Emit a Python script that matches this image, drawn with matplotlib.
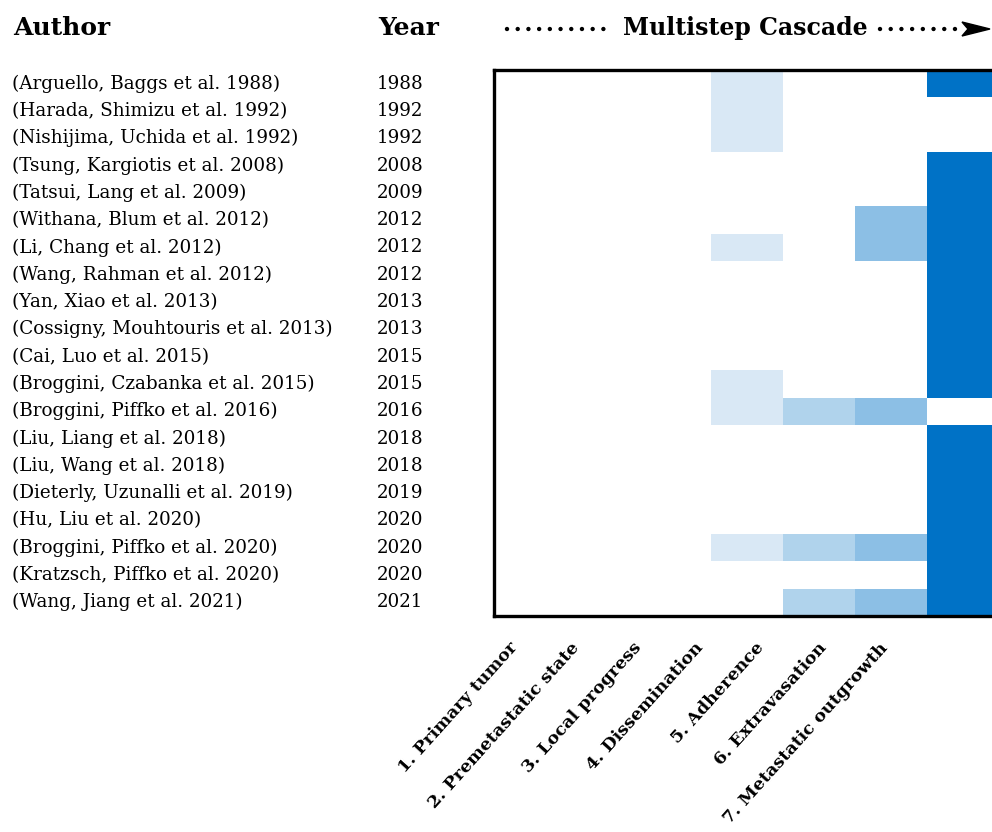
import matplotlib
matplotlib.use("Agg")
import matplotlib.pyplot as plt
import numpy as np
from matplotlib.colors import ListedColormap, BoundaryNorm
from matplotlib.transforms import blended_transform_factory
from matplotlib.lines import Line2D

plt.rcParams['font.family'] = ['DejaVu Serif']
plt.rcParams['lines.scale_dashes'] = False

authors = [
    "(Arguello, Baggs et al. 1988)",
    "(Harada, Shimizu et al. 1992)",
    "(Nishijima, Uchida et al. 1992)",
    "(Tsung, Kargiotis et al. 2008)",
    "(Tatsui, Lang et al. 2009)",
    "(Withana, Blum et al. 2012)",
    "(Li, Chang et al. 2012)",
    "(Wang, Rahman et al. 2012)",
    "(Yan, Xiao et al. 2013)",
    "(Cossigny, Mouhtouris et al. 2013)",
    "(Cai, Luo et al. 2015)",
    "(Broggini, Czabanka et al. 2015)",
    "(Broggini, Piffko et al. 2016)",
    "(Liu, Liang et al. 2018)",
    "(Liu, Wang et al. 2018)",
    "(Dieterly, Uzunalli et al. 2019)",
    "(Hu, Liu et al. 2020)",
    "(Broggini, Piffko et al. 2020)",
    "(Kratzsch, Piffko et al. 2020)",
    "(Wang, Jiang et al. 2021)",
]
years = ["1988", "1992", "1992", "2008", "2009", "2012", "2012", "2012", "2013", "2013",
         "2015", "2015", "2016", "2018", "2018", "2019", "2020", "2020", "2020", "2021"]

stages = ["1. Primary tumor", "2. Premetastatic state", "3. Local progress",
          "4. Dissemination", "5. Adherence", "6. Extravasation",
          "7. Metastatic outgrowth"]

# presence (1) of each cascade step per study
primary_tumor      = [0]*20
premetastatic      = [0]*20
local_progress     = [0]*20
dissemination      = [1,1,1,0,0,0,1,0,0,0,0,1,1,0,0,0,0,1,0,0]
adherence          = [0,0,0,0,0,0,0,0,0,0,0,0,1,0,0,0,0,1,0,1]
extravasation      = [0,0,0,0,0,1,1,0,0,0,0,0,1,0,0,0,0,1,0,1]
metastatic_outgr   = [1,0,0,1,1,1,1,1,1,1,1,1,0,1,1,1,1,1,1,1]
# colour level of each step
stage_level = [1, 1, 1, 1, 2, 3, 4]

presence = np.array([primary_tumor, premetastatic, local_progress, dissemination,
                     adherence, extravasation, metastatic_outgr]).T
values = presence * np.array(stage_level)[None, :]

cmap = ListedColormap(["#ffffff", "#d9e8f5", "#b0d3ec", "#8cbfe5", "#0072c6"])
norm = BoundaryNorm([-0.5, 0.5, 1.5, 2.5, 3.5, 4.5], cmap.N)

W, H = 992, 832
fig = plt.figure(figsize=(W/100, H/100), dpi=100)

left, right, top, bottom = 494, 1000, 70, 616
ax = fig.add_axes([left/W, 1-bottom/H, (right-left)/W, (bottom-top)/H])
ax.imshow(values, cmap=cmap, norm=norm, aspect='auto', interpolation='nearest')
ax.set_xlim(-0.5, 6.5)
ax.set_ylim(19.5, -0.5)
ax.set_xticks([]); ax.set_yticks([])
for s in ax.spines.values():
    s.set_linewidth(2.4)
    s.set_color('black')

# row labels
tr = blended_transform_factory(fig.transFigure, ax.transData)
for i, (a, y) in enumerate(zip(authors, years)):
    ax.text(12/W, i, a, transform=tr, ha='left', va='center', fontsize=13.2, clip_on=False)
    ax.text(377/W, i, y, transform=tr, ha='left', va='center', fontsize=13.2, clip_on=False)

# column labels (separate axis for tick labels)
lw_ = 432
lax = fig.add_axes([484/W, 1-634/H, lw_/W, 0.001])
lax.set_xlim(-0.5, 6.5)
lax.set_xticks(range(7))
lax.set_xticklabels(stages, rotation=48, ha='right', va='center', rotation_mode='anchor',
                    fontsize=12.6, fontweight='bold')
lax.tick_params(axis='x', length=0, pad=8)
lax.set_yticks([])
for s in lax.spines.values():
    s.set_visible(False)
lax.patch.set_alpha(0)

# headers
fig.text(13/W, 1-28/H, "Author", fontsize=18, fontweight='bold', ha='left', va='center')
fig.text(378/W, 1-28/H, "Year", fontsize=18, fontweight='bold', ha='left', va='center')
fig.text(745/W, 1-28/H, "Multistep Cascade", fontsize=17, fontweight='bold', ha='center', va='center')

yy = 1-29/H
dots = (0, (0.01, 7.7))
fig.add_artist(Line2D([507/W, 610/W], [yy, yy], transform=fig.transFigure, color='black',
                      lw=3.2, linestyle=dots, dash_capstyle='round'))
fig.add_artist(Line2D([880/W, 962/W], [yy, yy], transform=fig.transFigure, color='black',
                      lw=3.2, linestyle=dots, dash_capstyle='round'))
fig.add_artist(plt.Polygon([[962/W, yy+7/H], [990/W, yy], [962/W, yy-7/H], [968/W, yy]],
                           closed=True, transform=fig.transFigure, color='black'))

fig.savefig("out.png", dpi=100)
